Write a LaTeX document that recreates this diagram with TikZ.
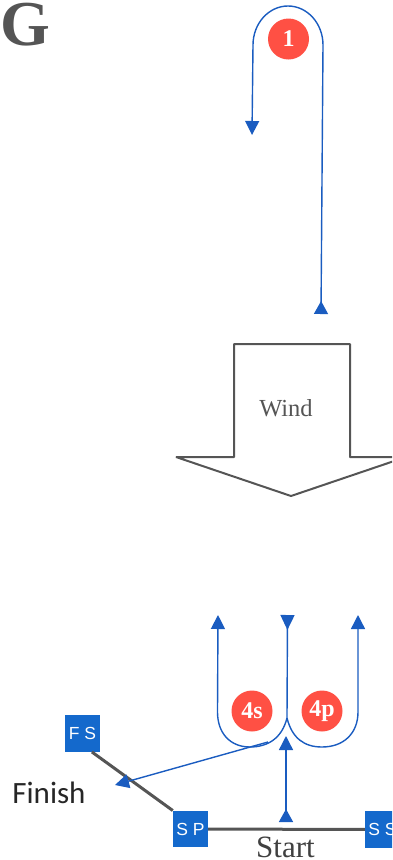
\documentclass[tikz,border=0pt]{standalone}
\usepackage{fontspec}
\setmainfont{Liberation Serif}
\newfontfamily\boxfont{Liberation Sans}
\newfontfamily\finishfont{Carlito}
\usetikzlibrary{arrows.meta}

\definecolor{flowblue}{HTML}{1A5CC0}
\definecolor{boxblue}{HTML}{1469CC}
\definecolor{markred}{HTML}{FF5044}
\definecolor{windgray}{HTML}{555555}

\tikzset{
  flow/.style     ={draw=flowblue, line width=1.4pt, -{Triangle[length=14pt,width=14pt]}},
  legmark/.style  ={circle, fill=markred, minimum size=41pt, inner sep=0pt, text=white, font=\fontsize{24}{24}\selectfont\bfseries},
  buoy/.style     ={fill=boxblue, minimum width=35pt, minimum height=36.5pt, inner sep=0pt, text=white, font=\boxfont\fontsize{17.5}{18}\selectfont},
  course/.style   ={draw=windgray, line width=3pt}
}

\begin{document}
\begin{tikzpicture}[x=1pt, y=-1pt]
    \clip (0,0) rectangle (392,860);
    \useasboundingbox (0,0) rectangle (392,860);

    % panel letter
    \node[inner sep=0pt, text=windgray, font=\fontsize{64}{64}\selectfont\bfseries] (letter) at (25.2,24.5) {G};

    % leg 1
    \node[legmark] (leg1) at (288.5,39) {1};
    \draw[flow, {Triangle[reversed,length=13pt,width=14pt]}-{Triangle[length=14pt,width=14pt]}] (321,314) -- (323,45) arc (0:-180:35 and 39) -- (252,135);

    % wind arrow
    \draw[windgray, line width=2pt, line join=bevel] (234,457) -- (234,344) -- (350,344) -- (350,457) -- (406,457) -- (291,496) -- (176,457) -- cycle;
    \node[text=windgray, font=\fontsize{24.5}{24}\selectfont] (wind) at (286,408) {Wind};

    % line and gate buoys
    \node[buoy] (fs) at (82.5,733.5) {F S};
    \node[buoy] (sp) at (190.5,829) {S P};
    \node[buoy] (ss) at (382.5,829.5) {S S};
    \draw[course] (fs.-63) -- (sp.north west);
    \draw[course] (sp) -- (ss);
    \node[inner sep=0pt, text=black!75, font=\fontsize{31}{31}\selectfont, anchor=base] (start) at (285.5,857) {Start};
    \node[inner sep=0pt, text=black!85, font=\finishfont\fontsize{31}{31}\selectfont, anchor=base] (finish) at (49,803) {Finish};

    % legs 4s and 4p
    \node[legmark] (leg4s) at (252,711) {4s};
    \node[legmark] (leg4p) at (322,711) {4p};
    \coordinate (split) at (287,718);
    \draw[flow] (split) .. controls (282,738) and (268,747) .. (250,747) .. controls (230,747) and (217.5,733) .. (217.5,712) -- (218,615);
    \draw[flow] (split) .. controls (292,738) and (304,747) .. (322,747) .. controls (344,747) and (358,733) .. (358,712) -- (358,615);
    \draw[draw=flowblue, line width=1.4pt, {Triangle[reversed,length=15pt,width=14pt]}-] (287.5,615) -- (split);
    \draw[flow] (268,742) -- (115,785);
    \draw[flow, {Triangle[reversed,length=13pt,width=14pt]}-{Triangle[length=14pt,width=14pt]}] (286,822) -- (286,736);
\end{tikzpicture}
\end{document}
